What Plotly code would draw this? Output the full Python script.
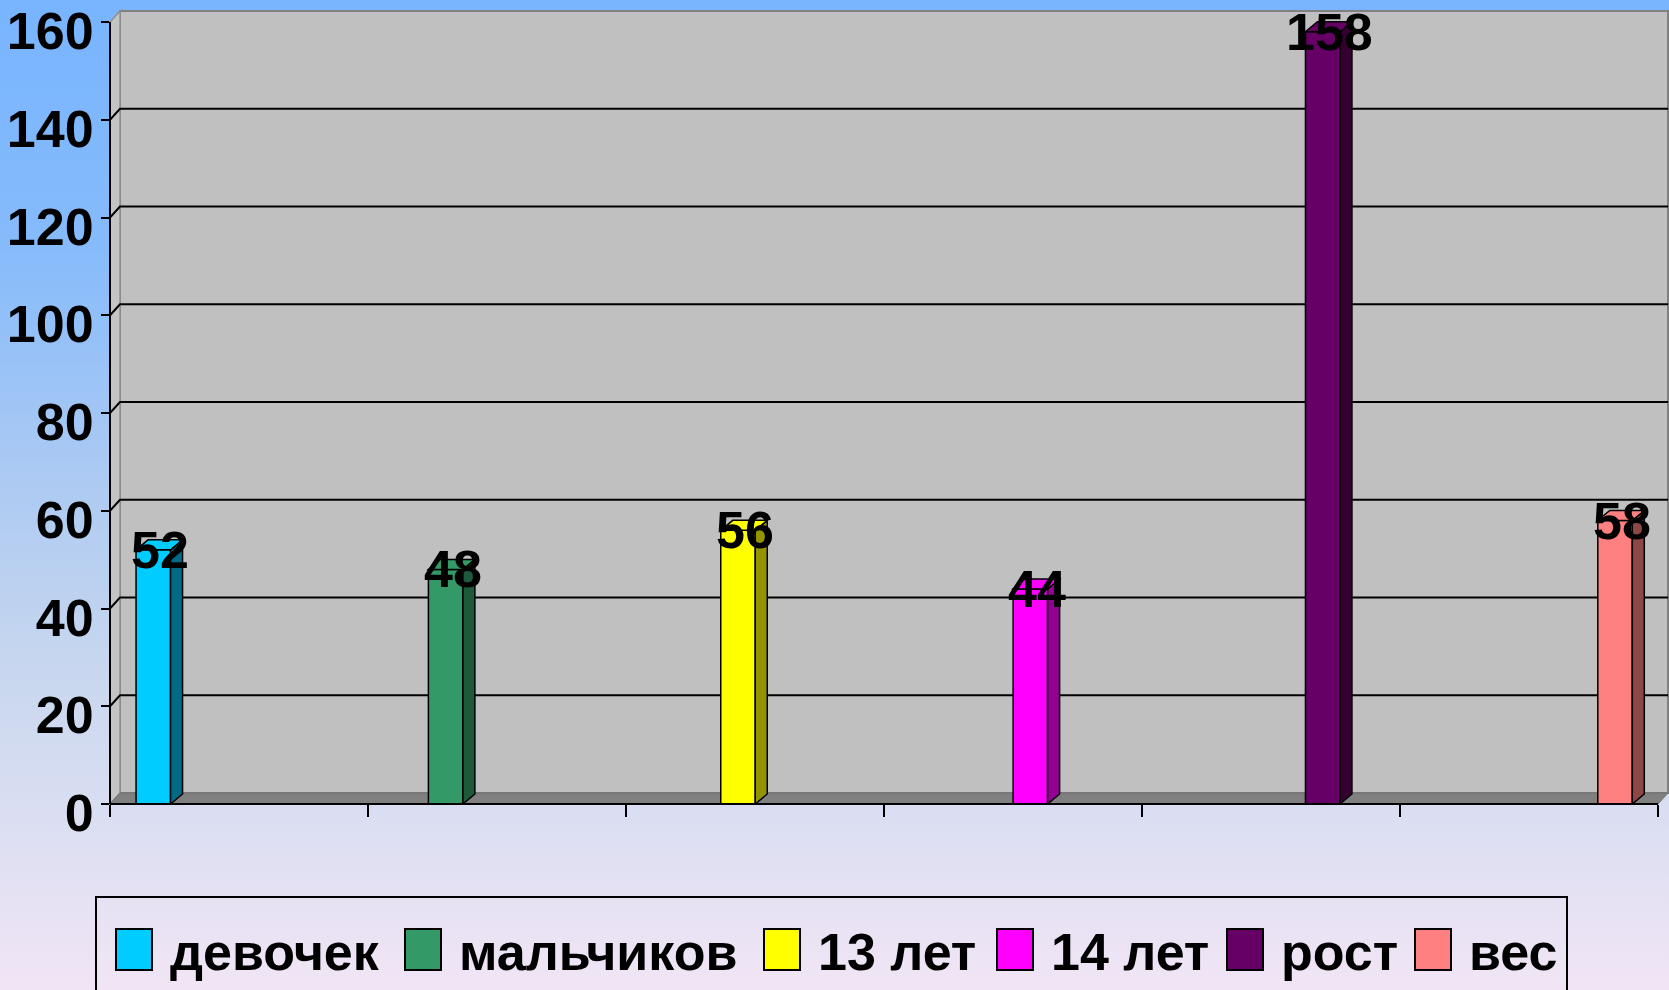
import base64

import numpy as np
import plotly.graph_objects as go

# ---- data -------------------------------------------------------------
categories = ["девочек", "мальчиков", "13 лет", "14 лет", "рост", "вес"]
values = [52, 48, 56, 44, 158, 58]
y_ticks = [0, 20, 40, 60, 80, 100, 120, 140, 160]

# ---- styling ----------------------------------------------------------
front_colors = ["#00CCFF", "#339966", "#FFFF00", "#FF00FF", "#660066", "#FF8080"]
side_colors = ["#006B87", "#1D5A3B", "#949400", "#930093", "#33002F", "#8E4747"]

W, H = 1669, 990
AX_LEFT, AX_RIGHT = 110, 1658        # front plane, pixels
AX_ZERO, AX_TOP = 804, 22            # pixel rows of 0 and 160
Y_MAX = 160
WALL_DX, WALL_DY = 10, 11            # depth of walls (pixels)
BAR_DX, BAR_DY = 12, 10              # depth of columns (pixels)
BAR0_PX, BAR_STEP_PX, BAR_W_PX = 153.3, 292.35, 34.5

NUM_FONT = dict(family="Liberation Sans, Arial, sans-serif",
                size=52, color="black", weight="bold")
LEG_FONT = dict(family="Liberation Sans, Arial, sans-serif", size=52, color="black",
                weight="bold")

px_per_unit = (AX_ZERO - AX_TOP) / Y_MAX
x_lo = (AX_LEFT - BAR0_PX) / BAR_STEP_PX
x_hi = (W - BAR0_PX) / BAR_STEP_PX
x_front_end = (AX_RIGHT - BAR0_PX) / BAR_STEP_PX
y_hi = AX_ZERO / px_per_unit
bar_w = BAR_W_PX / BAR_STEP_PX


def px_x(p):
    return p / W


def px_y(p):
    return 1 - p / H


def paper_path(points):
    return "M " + " L ".join(f"{px_x(a):.5f},{px_y(b):.5f}" for a, b in points) + " Z"


fig = go.Figure()

for i, (name, val, col) in enumerate(zip(categories, values, front_colors)):
    fig.add_trace(go.Bar(
        x=[i], y=[val], name=name, width=bar_w,
        marker=dict(color=col, line=dict(color="black", width=1.5)),
        showlegend=False, hoverinfo="name+y",
    ))

shapes = []

# back wall, left wall and floor of the 3-D box
shapes.append(dict(type="path", xref="paper", yref="paper", layer="below",
                   path=paper_path([(AX_LEFT + WALL_DX, AX_TOP - WALL_DY),
                                    (AX_RIGHT + WALL_DX, AX_TOP - WALL_DY),
                                    (AX_RIGHT + WALL_DX, AX_ZERO - WALL_DY),
                                    (AX_LEFT + WALL_DX, AX_ZERO - WALL_DY)]),
                   fillcolor="#C0C0C0", line=dict(color="#808080", width=2)))
shapes.append(dict(type="path", xref="paper", yref="paper", layer="below",
                   path=paper_path([(AX_LEFT, AX_ZERO), (AX_LEFT, AX_TOP),
                                    (AX_LEFT + WALL_DX, AX_TOP - WALL_DY),
                                    (AX_LEFT + WALL_DX, AX_ZERO - WALL_DY)]),
                   fillcolor="#C4C4C4", line=dict(color="#909090", width=1.5)))
shapes.append(dict(type="path", xref="paper", yref="paper", layer="below",
                   path=paper_path([(AX_LEFT, AX_ZERO),
                                    (AX_LEFT + WALL_DX, AX_ZERO - WALL_DY),
                                    (AX_RIGHT + WALL_DX, AX_ZERO - WALL_DY),
                                    (AX_RIGHT, AX_ZERO)]),
                   fillcolor="#808080", line=dict(color="#707070", width=1)))

# gridlines across the left wall and the back wall
for t in y_ticks[1:-1]:
    shapes.append(dict(type="path", xref="x", yref="y", layer="below",
                       xsizemode="pixel", ysizemode="pixel", xanchor=x_lo, yanchor=t,
                       path=f"M 0,0 L {WALL_DX},{WALL_DY} L {AX_RIGHT - AX_LEFT + WALL_DX},{WALL_DY}",
                       line=dict(color="black", width=2)))

# side and top faces of each column
dy = BAR_DY / px_per_unit
hw = BAR_W_PX / 2
for i, (val, sc, fc) in enumerate(zip(values, side_colors, front_colors)):
    shapes.append(dict(type="path", xref="x", yref="y", layer="above",
                       xsizemode="pixel", xanchor=i,
                       path=(f"M {hw},0 L {hw + BAR_DX},{dy} L {hw + BAR_DX},{val + dy} "
                             f"L {hw},{val} Z"),
                       fillcolor=sc, line=dict(color="black", width=1.5)))
    shapes.append(dict(type="path", xref="x", yref="y", layer="above",
                       xsizemode="pixel", xanchor=i,
                       path=(f"M {-hw},{val} L {hw},{val} L {hw + BAR_DX},{val + dy} "
                             f"L {-hw + BAR_DX},{val + dy} Z"),
                       fillcolor=fc, line=dict(color="black", width=1.5)))

# axis lines of the front plane
shapes.append(dict(type="line", xref="paper", yref="paper", layer="above",
                   x0=px_x(AX_LEFT), x1=px_x(AX_LEFT), y0=px_y(AX_TOP), y1=px_y(AX_ZERO),
                   line=dict(color="black", width=2)))
shapes.append(dict(type="line", xref="paper", yref="paper", layer="above",
                   x0=px_x(AX_LEFT), x1=px_x(AX_RIGHT), y0=px_y(AX_ZERO), y1=px_y(AX_ZERO),
                   line=dict(color="black", width=2)))

annotations = []
for i, val in enumerate(values):
    annotations.append(dict(x=i, y=val, xref="x", yref="y", text=str(val),
                            showarrow=False, xanchor="center", yanchor="middle",
                            xshift=7, font=NUM_FONT))

# legend box
LEG_LEFT, LEG_TOP, LEG_RIGHT = 96, 897, 1567
SW_W, SW_TOP, SW_BOT = 36, 929, 970
leg_x = [116, 405, 764, 997, 1227, 1415]
shapes.append(dict(type="rect", xref="paper", yref="paper", layer="above",
                   x0=px_x(LEG_LEFT), x1=px_x(LEG_RIGHT), y0=px_y(H + 10), y1=px_y(LEG_TOP),
                   line=dict(color="black", width=2), fillcolor="rgba(0,0,0,0)"))
for lx, name, col in zip(leg_x, categories, front_colors):
    shapes.append(dict(type="rect", xref="paper", yref="paper", layer="above",
                       x0=px_x(lx), x1=px_x(lx + SW_W), y0=px_y(SW_BOT), y1=px_y(SW_TOP),
                       fillcolor=col, line=dict(color="black", width=2)))
    annotations.append(dict(x=px_x(lx + SW_W + 16), y=px_y((SW_TOP + SW_BOT) / 2 + 2),
                            xref="paper", yref="paper", text=name, showarrow=False,
                            xanchor="left", yanchor="middle", font=LEG_FONT))

# background gradient
svg = (
    f'<svg xmlns="http://www.w3.org/2000/svg" width="{W}" height="{H}" '
    f'viewBox="0 0 {W} {H}" preserveAspectRatio="none">'
    '<defs><linearGradient id="g" x1="0" y1="0" x2="0" y2="1">'
    '<stop offset="0" stop-color="#78B4FF"/>'
    '<stop offset="0.25" stop-color="#86BBFB"/>'
    '<stop offset="0.5" stop-color="#AFCBF2"/>'
    '<stop offset="0.68" stop-color="#C8D7EE"/>'
    '<stop offset="0.82" stop-color="#DADEF2"/>'
    '<stop offset="1" stop-color="#F1E5F5"/>'
    '</linearGradient></defs>'
    f'<rect width="{W}" height="{H}" fill="url(#g)"/></svg>'
)
bg_src = "data:image/svg+xml;base64," + base64.b64encode(svg.encode()).decode()

fig.update_layout(
    template="none",
    width=W, height=H, autosize=False,
    margin=dict(l=0, r=0, t=0, b=0, pad=0),
    paper_bgcolor="#C8D7EE", plot_bgcolor="rgba(0,0,0,0)",
    barmode="overlay", showlegend=False,
    shapes=shapes, annotations=annotations,
    images=[dict(source=bg_src, xref="paper", yref="paper", x=0, y=1, sizex=1, sizey=1,
                 xanchor="left", yanchor="top", sizing="stretch", layer="below")],
    xaxis=dict(domain=[px_x(AX_LEFT), 1], range=[x_lo, x_hi], showgrid=False,
               zeroline=False, showline=False, automargin=False,
               tickmode="array", tickvals=list(np.linspace(x_lo, x_front_end, 7)),
               ticks="outside", ticklen=12, tickwidth=2, tickcolor="black",
               showticklabels=False),
    yaxis=dict(domain=[1 - AX_ZERO / H, 1], range=[0, y_hi], showgrid=False,
               zeroline=False, showline=False, automargin=False,
               tickmode="array", tickvals=y_ticks,
               ticks="outside", ticklen=8, tickwidth=2, tickcolor="black",
               tickfont=NUM_FONT, ticklabelshift=9, ticklabelstandoff=-3,
               ticklabeloverflow="allow"),
)

fig.write_html("out.html")
